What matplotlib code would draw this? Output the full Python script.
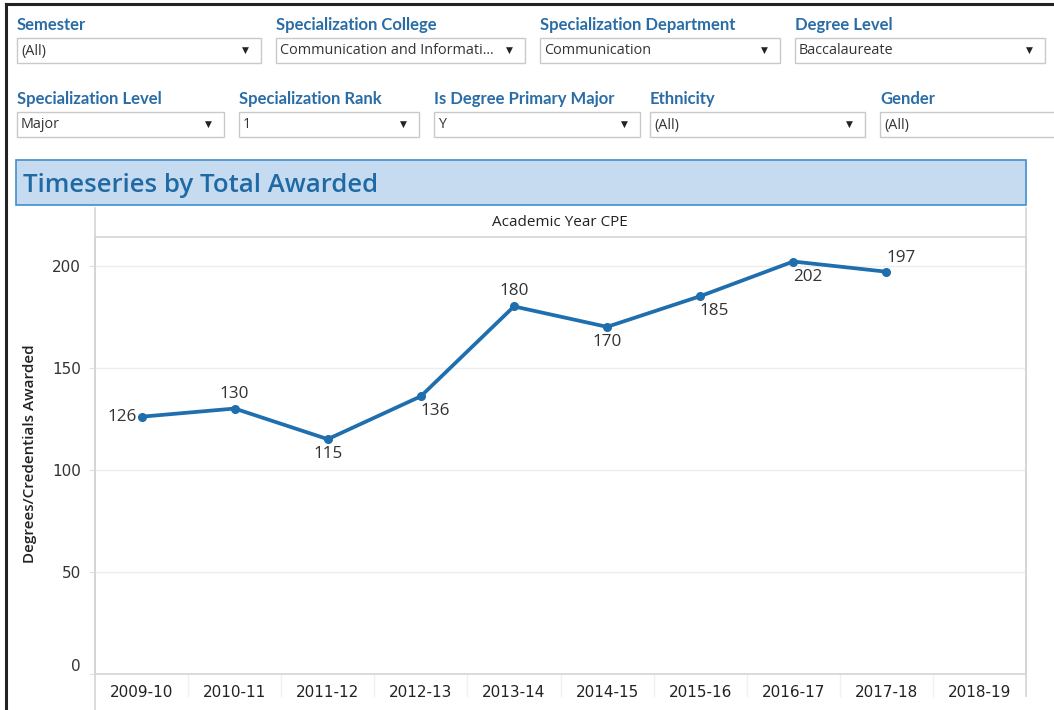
import matplotlib.pyplot as plt
from matplotlib.patches import Rectangle
from matplotlib.transforms import blended_transform_factory, offset_copy

# data
years = ["2009-10", "2010-11", "2011-12", "2012-13", "2013-14",
         "2014-15", "2015-16", "2016-17", "2017-18", "2018-19"]
awarded = [126, 130, 115, 136, 180, 170, 185, 202, 197]
label_pos = ["left", "above", "below", "below_right", "above",
             "below", "below_right", "below_right", "above_right"]
y_ticks = [0, 50, 100, 150, 200]

# filter widgets: (title, value, x0, x1) per row
filters_row1 = [("Semester", "(All)", 17, 261),
                ("Specialization College", "Communication and Informati...", 276, 525),
                ("Specialization Department", "Communication", 540, 780),
                ("Degree Level", "Baccalaureate", 795, 1045)]
filters_row2 = [("Specialization Level", "Major", 17, 224),
                ("Specialization Rank", "1", 239, 419),
                ("Is Degree Primary Major", "Y", 434, 640),
                ("Ethnicity", "(All)", 650, 865),
                ("Gender", "(All)", 880, 1070)]

BLUE_TXT = "#2a6da6"
LINE_BLUE = "#1f6ead"
GRAY = "#d4d4d4"

W, H = 1054, 710
fig = plt.figure(figsize=(W / 100, H / 100), dpi=100)

# background canvas in pixel coords
bg = fig.add_axes([0, 0, 1, 1])
bg.set_xlim(0, W)
bg.set_ylim(H, 0)
bg.axis("off")

# outer dashboard frame
bg.plot([6, 6], [4, H], color="#222222", lw=2.2)
bg.plot([6, W], [4, 4], color="#222222", lw=2.2)


def draw_filter(title, value, x0, x1, y_title, y_box):
    bg.text(x0, y_title, title, fontsize=12, fontweight="bold", color=BLUE_TXT,
            family="Lato", va="center", ha="left")
    bg.add_patch(Rectangle((x0, y_box), x1 - x0, 25, facecolor="white",
                           edgecolor="#c9c9c9", lw=1))
    bg.text(x0 + 4, y_box + 13, value, fontsize=10.4, color="#333333",
            family="Open Sans", va="center", ha="left")
    if x1 < W:
        bg.text(x1 - 16, y_box + 12, "\u25BC", fontsize=6.5, color="#222222",
                va="center", ha="center")


for t, v, a, b in filters_row1:
    draw_filter(t, v, a, b, 25, 38)
for t, v, a, b in filters_row2:
    draw_filter(t, v, a, b, 99, 112)

# title banner
bg.add_patch(Rectangle((16, 160), 1010, 45, facecolor="#c6dbef",
                       edgecolor="#3f8fcf", lw=1.2))
bg.text(23, 185, "Timeseries by Total Awarded", fontsize=18.5, color="#1f6aa5",
        family="Open Sans", fontweight="semibold", va="center", ha="left")

# frame lines around the chart pane
bg.plot([95, 95], [208, H], color=GRAY, lw=1.2)
bg.plot([1026, 1026], [208, 696], color=GRAY, lw=1.2)
bg.text(560, 222, "Academic Year CPE", fontsize=11, color="#222222",
        family="Open Sans", fontweight="medium", va="center", ha="center")

# main chart
ax = fig.add_axes([95 / W, 1 - 674 / H, 931 / W, 437 / H])
ax.patch.set_alpha(0)
x = list(range(len(awarded)))
ax.plot(x, awarded, color=LINE_BLUE, lw=2.7, marker="o", ms=5.5, zorder=3,
        solid_joinstyle="round")
ax.set_xlim(-0.5, len(years) - 0.5)
ax.set_ylim(0, 214)

for s in ["top", "bottom", "left", "right"]:
    ax.spines[s].set_color(GRAY)
    ax.spines[s].set_linewidth(1.2)

ax.set_yticks(y_ticks, [str(v) for v in y_ticks])
ax.get_yticklabels()[0].set_verticalalignment("bottom")
ax.tick_params(axis="y", length=4, color="#e0e0e0", labelsize=11,
               labelcolor="#333333", pad=6)
for v in y_ticks[1:]:
    ax.axhline(v, color="#ededed", lw=1, zorder=0)

ax.set_xticks(x + [len(years) - 1], years)
ax.tick_params(axis="x", length=0, labelsize=11, labelcolor="#222222", pad=8)
trans = blended_transform_factory(ax.transData, ax.transAxes)
for k in range(1, len(years)):
    ax.plot([k - 0.5, k - 0.5], [0, -0.05], color="#f0f0f0", lw=1,
            transform=trans, clip_on=False)

ax.set_ylabel("Degrees/Credentials Awarded", fontsize=11, color="#222222",
              family="Open Sans", fontweight="semibold")
ax.yaxis.set_label_coords(-0.062, 0.505)

offsets = {"left": (-5, 0, "right", "center"),
           "above": (0, 7, "center", "bottom"),
           "below": (0, -7, "center", "top"),
           "below_right": (14, -7, "center", "top"),
           "above_right": (15, 6, "center", "bottom")}
for xi, yi, pos in zip(x, awarded, label_pos):
    dx, dy, ha, va = offsets[pos]
    tr = offset_copy(ax.transData, fig=fig, x=dx, y=dy, units="dots")
    ax.text(xi, yi, str(yi), transform=tr, ha=ha, va=va, fontsize=12.3,
            color="#333333", family="Open Sans")

fig.savefig("out.png", dpi=100)
